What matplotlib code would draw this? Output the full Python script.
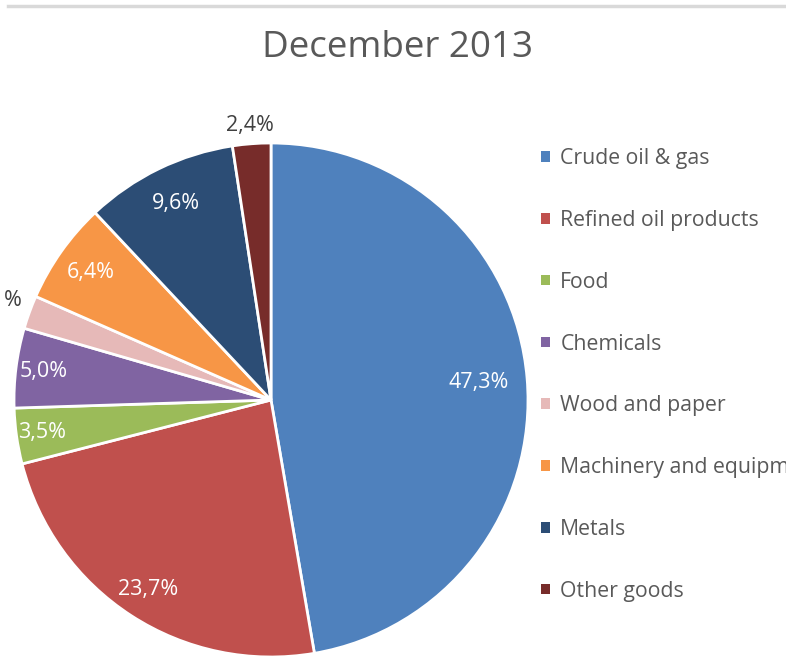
import matplotlib
matplotlib.use("Agg")
import matplotlib.pyplot as plt
from matplotlib.lines import Line2D
from matplotlib.patches import Patch
import numpy as np

# Export structure, December 2013 (% of total)
categories = ["Crude oil & gas", "Refined oil products", "Food", "Chemicals",
              "Wood and paper", "Machinery and equipment", "Metals", "Other goods"]
shares = [47.3, 23.7, 3.5, 5.0, 2.1, 6.4, 9.6, 2.4]
colors = ["#4F81BD", "#C0504D", "#9BBB59", "#8064A2",
          "#E6B9B8", "#F79646", "#2C4D75", "#772C2A"]

# label distance from centre (in radii); > 1 means outside the slice
label_dist = [0.81, 0.88, 0.90, 0.89, 1.13, 0.86, 0.85, 1.07]

plt.rcParams['font.family'] = ['Open Sans', 'DejaVu Sans']

fig = plt.figure(figsize=(7.86, 6.58), dpi=100)
W, H = 786, 658

# pie centre and radius in pixels
cx, cy, r = 271, 400, 257
ax = fig.add_axes([(cx - r) / W, (H - cy - r) / H, 2 * r / W, 2 * r / H])

wedges, _ = ax.pie(shares, colors=colors, startangle=90, counterclock=False,
                   wedgeprops=dict(edgecolor="white", linewidth=2, clip_on=False))
ax.set_xlim(-1, 1)
ax.set_ylim(-1, 1)
ax.set_aspect("equal")
ax.axis("off")

for w, v, d in zip(wedges, shares, label_dist):
    ang = np.deg2rad((w.theta1 + w.theta2) / 2)
    txt = f"{v:.1f}%".replace(".", ",")
    col = "#404040" if d > 1 else "white"
    ax.text(d * np.cos(ang), d * np.sin(ang), txt, ha="center", va="center",
            fontsize=15.5, color=col)

handles = [Patch(facecolor=c, edgecolor="none") for c in colors]
fig.legend(handles, categories, loc="upper left",
           bbox_to_anchor=(522 / W, 1 - 129 / H), frameon=False,
           fontsize=15.3, labelcolor="#595959", handlelength=0.4,
           handleheight=0.4, handletextpad=0.5, labelspacing=1.92)

fig.text(398 / W, 1 - 48 / H, "December 2013", ha="center", va="center",
         fontsize=26.5, color="#595959")

# top border of the chart area
fig.add_artist(Line2D([8 / W, 1], [1 - 6 / H, 1 - 6 / H], color="#D9D9D9",
                      linewidth=2.5, transform=fig.transFigure))

fig.savefig("out.png", dpi=100)
